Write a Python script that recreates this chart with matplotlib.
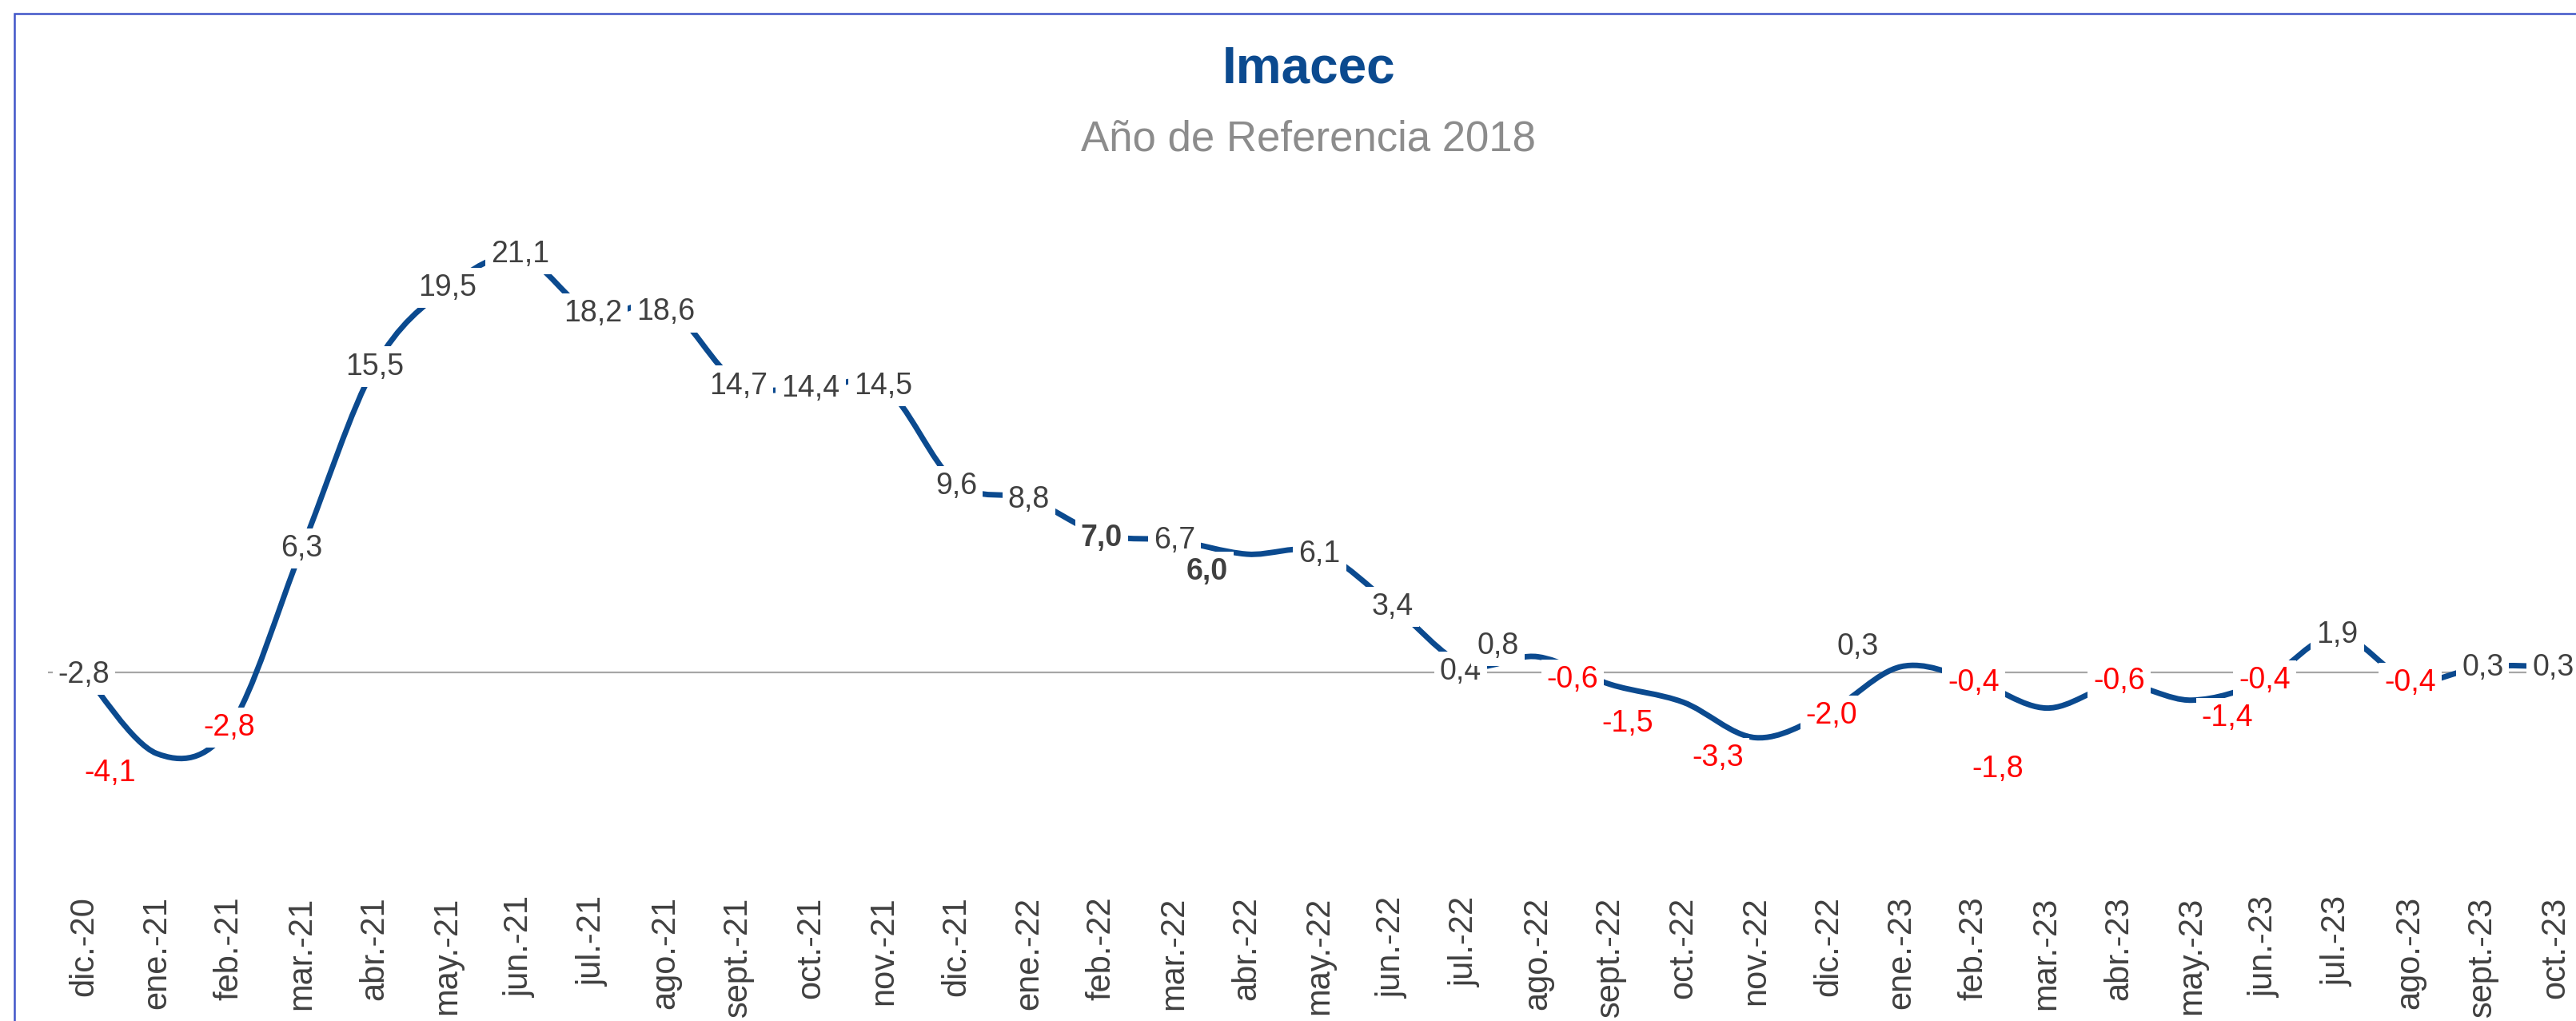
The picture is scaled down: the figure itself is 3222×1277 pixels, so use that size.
import numpy as np
import matplotlib
matplotlib.use("Agg")
import matplotlib.pyplot as plt
from matplotlib.path import Path
from matplotlib.patches import PathPatch, Rectangle

plt.rcParams['font.family'] = ['Liberation Sans', 'DejaVu Sans']

meses = ['dic.-20', 'ene.-21', 'feb.-21', 'mar.-21', 'abr.-21', 'may.-21', 'jun.-21',
         'jul.-21', 'ago.-21', 'sept.-21', 'oct.-21', 'nov.-21', 'dic.-21', 'ene.-22',
         'feb.-22', 'mar.-22', 'abr.-22', 'may.-22', 'jun.-22', 'jul.-22', 'ago.-22',
         'sept.-22', 'oct.-22', 'nov.-22', 'dic.-22', 'ene.-23', 'feb.-23', 'mar.-23',
         'abr.-23', 'may.-23', 'jun.-23', 'jul.-23', 'ago.-23', 'sept.-23', 'oct.-23']
# plotted line values (first point of the line sits on the zero line)
imacec = [0.0, -4.1, -2.8, 6.3, 15.5, 19.5, 21.1, 18.2, 18.6, 14.7, 14.4, 14.5, 9.6, 8.8,
          7.0, 6.7, 6.0, 6.1, 3.4, 0.4, 0.8, -0.6, -1.5, -3.3, -2.0, 0.3, -0.4, -1.8,
          -0.6, -1.4, -0.4, 1.9, -0.4, 0.3, 0.3]
# data label texts as shown on the chart
etiquetas = ['-2,8', '-4,1', '-2,8', '6,3', '15,5', '19,5', '21,1', '18,2', '18,6', '14,7',
             '14,4', '14,5', '9,6', '8,8', '7,0', '6,7', '6,0', '6,1', '3,4', '0,4', '0,8',
             '-0,6', '-1,5', '-3,3', '-2,0', '0,3', '-0,4', '-1,8', '-0,6', '-1,4', '-0,4',
             '1,9', '-0,4', '0,3', '0,3']
etiquetas_negrita = ['feb.-22', 'abr.-22']

# label offsets (points) relative to each data point
off_x = [0, -42, 0, 0, 0, 0, 0, 0, 0, 0, 0, 0, 0, 0, 0, 0, -36, 0, 0, -4, -36, -34, -50, -34,
         3, -39, 0, -44, 0, 32, 0, 0, 0, 0, -2]
off_y = [0, -18, 0, 0, 0, 0, 1.5, 0, -6, -3, 0, 0, -3, -1, -3, 0, -16, -2, -1, -6, 9.5, 4.5,
         -19, -18, -3, 18, -2, -55, 3, -16, 0, 0, -2, -1, -1]

azul = '#0B4A8F'
x = np.arange(len(imacec))
y = np.array(imacec)

fig = plt.figure(figsize=(32.22, 12.77), dpi=100)
ax = fig.add_axes([0.01847, 0.148, 0.9876, 0.6765])
ax.set_xlim(-0.5, len(imacec) - 0.5)
ax.set_ylim(-10, 25)

# smoothed line (Excel style bezier)
pts = np.column_stack([x, y]).astype(float)
ext = np.vstack([pts[0], pts, pts[-1]])
verts = [tuple(pts[0])]
codes = [Path.MOVETO]
for i in range(len(pts) - 1):
    p0, p1, p2, p3 = ext[i], ext[i + 1], ext[i + 2], ext[i + 3]
    c1 = p1 + (p2 - p0) / 6
    c2 = p2 - (p3 - p1) / 6
    verts += [tuple(c1), tuple(c2), tuple(p2)]
    codes += [Path.CURVE4] * 3
ax.add_patch(PathPatch(Path(verts, codes), fc='none', ec=azul, lw=5, zorder=3,
                       capstyle='butt'))

ax.axhline(0, color='#A6A6A6', lw=1.6, zorder=1)

for i, v in enumerate(imacec):
    txt = etiquetas[i]
    col = '#FF0000' if (txt.startswith('-') and i > 0) else '#404040'
    wt = 'bold' if meses[i] in etiquetas_negrita else 'normal'
    # the first label sits up on the zero line
    yy = -2.8 if i == 0 else v
    ax.annotate(txt, (x[i], yy), xytext=(off_x[i], off_y[i] + (48 if i == 0 else 0)),
                textcoords='offset points', ha='center', va='center', fontsize=27,
                color=col, fontweight=wt, zorder=5,
                bbox=dict(fc='white', ec='none', pad=5))

ax.set_xticks(x)
ax.set_xticklabels(meses, rotation=90, fontsize=30, color='#404040')
ax.tick_params(axis='x', length=0, pad=24)
ax.set_yticks([])
for s in ax.spines.values():
    s.set_visible(False)

fig.text(0.508, 0.932, 'Imacec', ha='center', va='center', fontsize=46,
         fontweight='bold', color=azul)
fig.text(0.508, 0.863, 'Año de Referencia 2018', ha='center', va='center', fontsize=38,
         color='#8C8C8C')

fig.add_artist(Rectangle((18 / 3222, -0.1), 1.2, 1.1 - 17 / 1277, transform=fig.transFigure,
                         fill=False, ec='#4055C8', lw=1.8, clip_on=False))

fig.savefig('out.png', dpi=100, facecolor='white')
